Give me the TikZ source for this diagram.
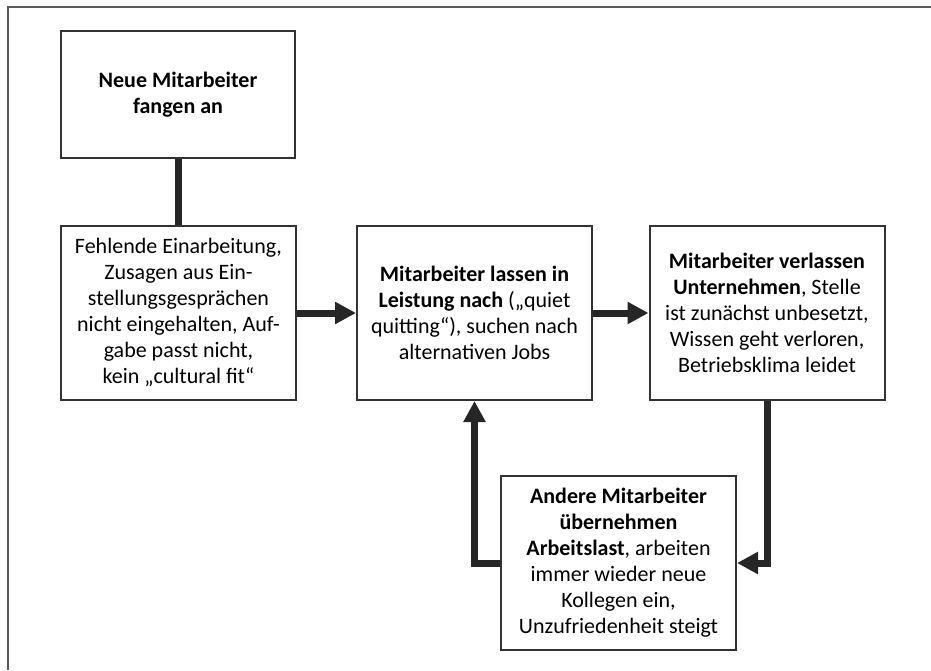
\documentclass[tikz,border=0pt]{standalone}
\usepackage{fontspec}
\setmainfont{Carlito}
\usetikzlibrary{arrows.meta}
\definecolor{boxline}{HTML}{333333}
\definecolor{frameline}{HTML}{5A5A5A}
\definecolor{arrowcol}{HTML}{262626}
\begin{document}
\begin{tikzpicture}[x=1pt,y=-1pt,
  stepbox/.style={draw=boxline,line width=2pt,fill=white,minimum width=235pt,minimum height=174pt,
    align=center,inner sep=0pt,font=\fontsize{22}{26}\selectfont},
  conn/.style={draw=arrowcol,line width=7pt},
  flow/.style={conn,-{Triangle[length=21pt,width=21pt]}}]
\useasboundingbox (0,0) rectangle (931,670);
\fill[white] (0,0) rectangle (931,670);
\draw[frameline,line width=2pt] (8,670) -- (8,7) -- (931,7);

\node[stepbox,minimum width=234pt,minimum height=127pt] (b1) at (178,94.5) {\textbf{Neue Mitarbeiter}\\\textbf{fangen an}};
\node[stepbox] (b2) at (178.5,313) {Fehlende Einarbeitung,\\Zusagen aus Ein-\\stellungsgesprächen\\nicht eingehalten, Auf-\\gabe passt nicht,\\kein „cultural fit“};
\node[stepbox] (b3) at (474.5,313) {\textbf{Mitarbeiter lassen in}\\\textbf{Leistung nach} („quiet\\quitting“), suchen nach\\alternativen Jobs};
\node[stepbox] (b4) at (767,313) {\textbf{Mitarbeiter verlassen}\\\textbf{Unternehmen}, Stelle\\ist zunächst unbesetzt,\\Wissen geht verloren,\\Betriebsklima leidet};
\node[stepbox] (b5) at (618.5,563) {\textbf{Andere Mitarbeiter}\\\textbf{übernehmen}\\\textbf{Arbeitslast}, arbeiten\\immer wieder neue\\Kollegen ein,\\Unzufriedenheit steigt};

\draw[conn] (b1.south) -- (b1.south |- b2.north);
\draw[flow] (b2) -- (b3);
\draw[flow] (b3) -- (b4);
\draw[flow] (b4.south) |- (b5.east);
\draw[flow] (b5.west) -| (b3.south);
\end{tikzpicture}
\end{document}
